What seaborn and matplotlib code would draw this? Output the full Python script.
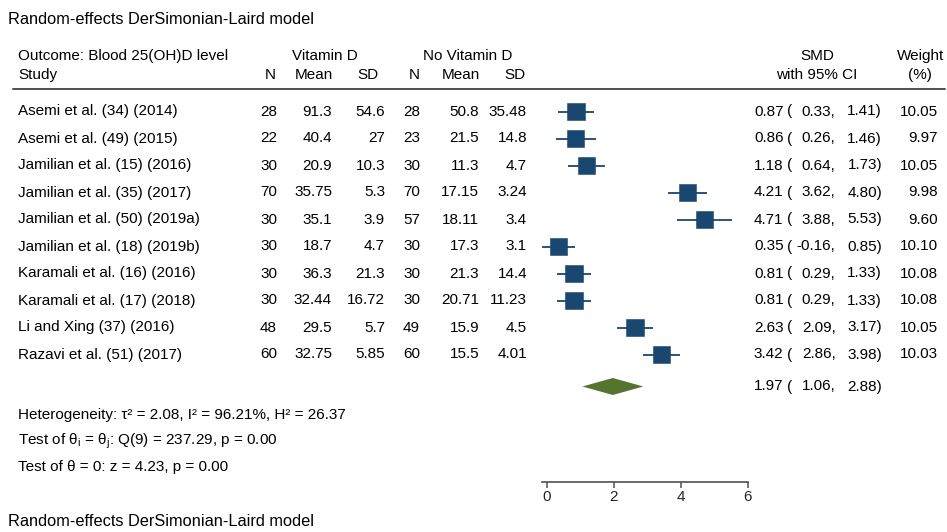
import numpy as np
import pandas as pd
import matplotlib
matplotlib.use("Agg")
import matplotlib.pyplot as plt
import matplotlib.transforms as mtransforms
from matplotlib.lines import Line2D
import seaborn as sns

# ---- study-level data -------------------------------------------------------
studies = [
    "Asemi et al. (34) (2014)",
    "Asemi et al. (49) (2015)",
    "Jamilian et al. (15) (2016)",
    "Jamilian et al. (35) (2017)",
    "Jamilian et al. (50) (2019a)",
    "Jamilian et al. (18) (2019b)",
    "Karamali et al. (16) (2016)",
    "Karamali et al. (17) (2018)",
    "Li and Xing (37) (2016)",
    "Razavi et al. (51) (2017)",
]
n_vit = [28, 22, 30, 70, 30, 30, 30, 30, 48, 60]
mean_vit = [91.3, 40.4, 20.9, 35.75, 35.1, 18.7, 36.3, 32.44, 29.5, 32.75]
sd_vit = [54.6, 27, 10.3, 5.3, 3.9, 4.7, 21.3, 16.72, 5.7, 5.85]
n_ctl = [28, 23, 30, 70, 57, 30, 30, 30, 49, 60]
mean_ctl = [50.8, 21.5, 11.3, 17.15, 18.11, 17.3, 21.3, 20.71, 15.9, 15.5]
sd_ctl = [35.48, 14.8, 4.7, 3.24, 3.4, 3.1, 14.4, 11.23, 4.5, 4.01]
smd = [0.87, 0.86, 1.18, 4.21, 4.71, 0.35, 0.81, 0.81, 2.63, 3.42]
ci_low = [0.33, 0.26, 0.64, 3.62, 3.88, -0.16, 0.29, 0.29, 2.09, 2.86]
ci_high = [1.41, 1.46, 1.73, 4.80, 5.53, 0.85, 1.33, 1.33, 3.17, 3.98]
weight = [10.05, 9.97, 10.05, 9.98, 9.60, 10.10, 10.08, 10.08, 10.05, 10.03]

overall = [1.97, 1.06, 2.88]  # estimate, lower, upper
x_ticks = [0, 2, 4, 6]

model_label = "Random-effects DerSimonian-Laird model"
stats_lines = [
    "Heterogeneity: τ² = 2.08, I² = 96.21%, H² = 26.37",
    "Test of θ$_\\mathregular{i}$ = θ$_\\mathregular{j}$: Q(9) = 237.29, p = 0.00",
    "Test of θ = 0: z = 4.23, p = 0.00",
]

df = pd.DataFrame({
    "study": studies, "smd": smd, "lo": ci_low, "hi": ci_high, "w": weight,
})
df["row"] = np.arange(1, len(df) + 1)

# ---- style --------------------------------------------------------------------
sns.set_theme(style="white")
plt.rcParams["font.family"] = ["Liberation Sans", "DejaVu Sans"]
plt.rcParams["mathtext.fontset"] = "custom"
plt.rcParams["mathtext.rm"] = "Liberation Sans"
plt.rcParams["mathtext.it"] = "Liberation Sans:italic"

NAVY = "#1a476f"
GREEN = "#55752f"
RULE = "#505050"
FS = 11

W, H = 947, 532
fig = plt.figure(figsize=(W / 100, H / 100), dpi=100)
fig.patch.set_facecolor("white")

# forest panel geometry (pixels)
PX_ZERO, PX_PER_UNIT = 547.0, 33.42
AX_L, AX_R = 500.0, 800.0
ROW1_PX, ROW_PX = 111.5, 27.0
AX_BOTTOM_PX = 482.0


def row_at(px):
    return 1 + (px - ROW1_PX) / ROW_PX


ax = fig.add_axes([AX_L / W, 1 - AX_BOTTOM_PX / H, (AX_R - AX_L) / W, AX_BOTTOM_PX / H])
ax.set_xlim((AX_L - PX_ZERO) / PX_PER_UNIT, (AX_R - PX_ZERO) / PX_PER_UNIT)
ax.set_ylim(row_at(AX_BOTTOM_PX), row_at(0))
ax.patch.set_alpha(0)

# confidence intervals and weighted squares
ax.hlines(df["row"], df["lo"], df["hi"], color=NAVY, lw=1.3, zorder=2)
sns.scatterplot(data=df, x="smd", y="row", marker="s", s=df["w"] * 15.5,
                color=NAVY, edgecolor=NAVY, linewidth=0.4, legend=False,
                ax=ax, zorder=3)

# pooled estimate diamond
y_ov = row_at(386.5)
half_h = 8.5 / ROW_PX
est, lo, hi = overall
ax.fill([lo, est, hi, est], [y_ov, y_ov - half_h, y_ov, y_ov + half_h],
        color=GREEN, lw=0, zorder=3)

# axis
for side in ["top", "left", "right"]:
    ax.spines[side].set_visible(False)
ax.spines["bottom"].set_color(RULE)
ax.spines["bottom"].set_linewidth(1.2)
ax.spines["bottom"].set_bounds(min(ci_low), max(x_ticks))
ax.set_xticks(x_ticks)
ax.set_xticklabels([str(t) for t in x_ticks])
ax.set_yticks([])
ax.set_xlabel("")
ax.set_ylabel("")
ax.tick_params(axis="x", direction="out", length=4, width=1.1, color=RULE,
               labelsize=FS, pad=2, bottom=True)

# ---- text columns ---------------------------------------------------------------
tr = mtransforms.blended_transform_factory(fig.transFigure, ax.transData)


def put(px, row, s, ha="left", **kw):
    ax.text(px / W, row, s, transform=tr, ha=ha, va="center", fontsize=kw.pop("fontsize", FS),
            color="black", clip_on=False, **kw)


# title and headers
put(8, row_at(20), model_label, fontsize=11.8)
y_h1, y_h2 = row_at(56), row_at(75)
put(18, y_h1, "Outcome: Blood 25(OH)D level")
put(325, y_h1, "Vitamin D", ha="center")
put(468, y_h1, "No Vitamin D", ha="center")
put(817, y_h1, "SMD", ha="center")
put(921, y_h1, "Weight", ha="center")
put(18, y_h2, "Study")
put(276, y_h2, "N", ha="right")
put(333, y_h2, "Mean", ha="right")
put(378, y_h2, "SD", ha="right")
put(420, y_h2, "N", ha="right")
put(480, y_h2, "Mean", ha="right")
put(525, y_h2, "SD", ha="right")
put(817, y_h2, "with 95% CI", ha="center")
put(920, y_h2, "(%)", ha="center")

fig.add_artist(Line2D([13 / W, 945 / W], [1 - 89 / H, 1 - 89 / H],
                      color=RULE, lw=1.4, transform=fig.transFigure))

# study rows
for i, r in df.iterrows():
    y = r["row"]
    put(18, y, r["study"])
    put(277, y, f"{n_vit[i]}", ha="right")
    put(332, y, f"{mean_vit[i]:g}", ha="right")
    put(385, y, f"{sd_vit[i]:g}", ha="right")
    put(420, y, f"{n_ctl[i]}", ha="right")
    put(479, y, f"{mean_ctl[i]:g}", ha="right")
    put(527, y, f"{sd_ctl[i]:g}", ha="right")
    put(783.5, y, f"{r['smd']:.2f}", ha="right")
    put(786.5, y, "(")
    put(835.5, y, f"{r['lo']:.2f},", ha="right")
    put(882, y, f"{r['hi']:.2f})", ha="right")
    put(938, y, f"{r['w']:.2f}", ha="right")

# pooled row
put(783.5, y_ov, f"{est:.2f}", ha="right")
put(786.5, y_ov, "(")
put(835.5, y_ov, f"{lo:.2f},", ha="right")
put(882, y_ov, f"{hi:.2f})", ha="right")

# heterogeneity and tests
for px, s in zip([415, 441, 467], stats_lines):
    put(18, row_at(px), s)

put(8, row_at(522), model_label, fontsize=11.8)

fig.savefig("out.png", dpi=100, facecolor="white")
